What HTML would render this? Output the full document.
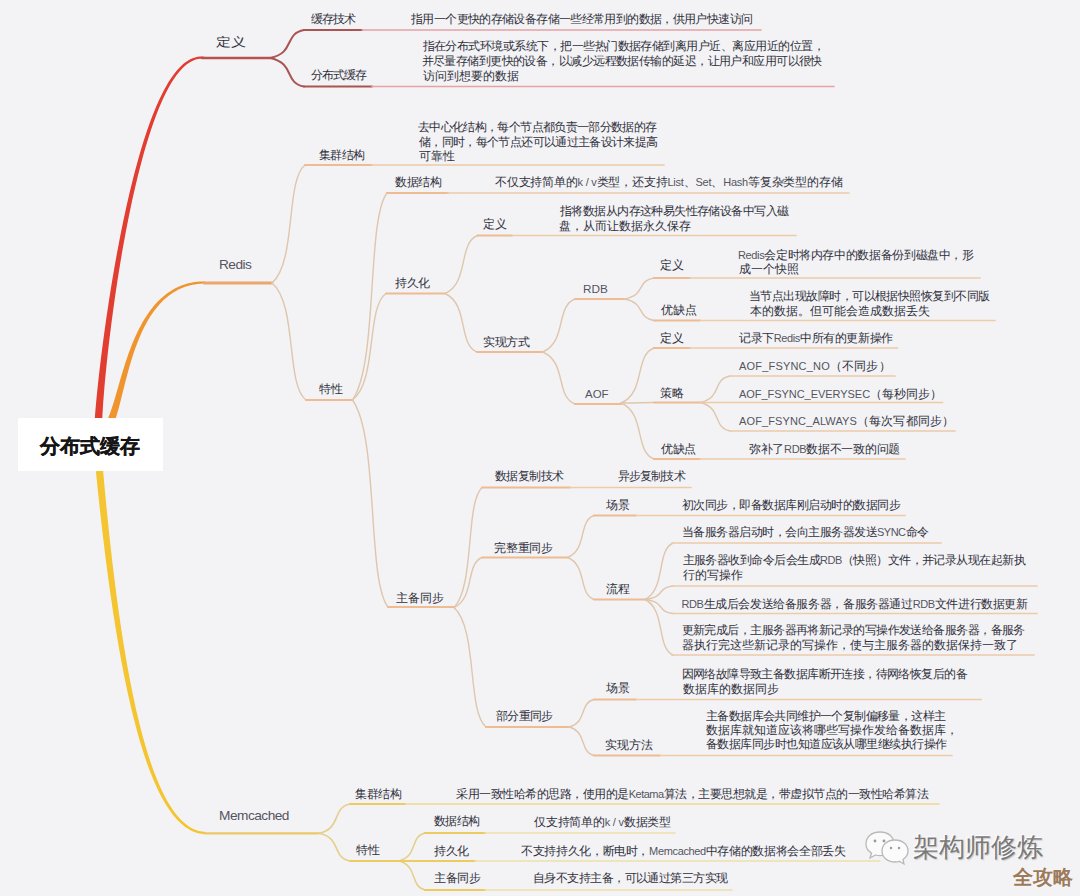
<!DOCTYPE html><html><head><meta charset="utf-8"><style>
html,body{margin:0;padding:0;width:1080px;height:896px;overflow:hidden;background:#f3f3f5}
.t{position:absolute;white-space:nowrap;line-height:1;font-family:"Liberation Sans",sans-serif;color:#30303c}
.l{font-size:0.957em;color:#55555f}
</style></head><body>
<svg width="1080" height="896" style="position:absolute;left:0;top:0">
<path d="M102.24 419.22 L102.37 416.32 L102.53 413.23 L102.72 409.94 L102.94 406.45 L103.19 402.78 L103.48 398.93 L103.79 394.90 L104.13 390.71 L104.50 386.36 L104.91 381.86 L105.34 377.21 L105.80 372.42 L106.30 367.49 L106.82 362.44 L107.38 357.26 L107.96 351.97 L108.58 346.56 L109.22 341.06 L109.90 335.46 L110.60 329.76 L111.33 323.98 L112.10 318.13 L112.89 312.20 L113.71 306.21 L114.57 300.15 L115.45 294.05 L116.36 287.89 L117.30 281.70 L118.28 275.47 L119.28 269.22 L120.31 262.94 L121.36 256.64 L122.45 250.34 L123.57 244.04 L124.72 237.73 L125.89 231.44 L127.10 225.16 L128.33 218.91 L129.60 212.68 L130.89 206.49 L132.21 200.34 L133.56 194.23 L134.94 188.18 L136.35 182.19 L137.78 176.26 L139.25 170.41 L140.74 164.63 L142.26 158.94 L143.81 153.34 L145.39 147.84 L147.00 142.44 L148.63 137.15 L150.29 131.98 L151.98 126.93 L153.70 122.01 L155.45 117.22 L157.22 112.58 L159.03 108.08 L160.86 103.74 L162.71 99.56 L164.59 95.54 L166.50 91.70 L168.44 88.04 L170.40 84.56 L172.39 81.28 L174.40 78.19 L176.44 75.31 L178.50 72.64 L180.58 70.19 L182.69 67.97 L184.81 65.97 L186.95 64.21 L189.12 62.68 L191.30 61.41 L193.49 60.38 L195.71 59.60 L197.94 59.07 L200.20 58.81 L202.49 58.81 L204.87 59.09 L205.13 56.91 L202.63 56.60 L200.08 56.57 L197.56 56.83 L195.07 57.38 L192.62 58.20 L190.20 59.29 L187.82 60.64 L185.48 62.23 L183.17 64.07 L180.89 66.14 L178.66 68.44 L176.45 70.96 L174.28 73.69 L172.14 76.63 L170.03 79.77 L167.95 83.10 L165.90 86.63 L163.88 90.33 L161.89 94.21 L159.92 98.26 L157.99 102.48 L156.08 106.85 L154.21 111.38 L152.36 116.05 L150.54 120.86 L148.75 125.80 L146.98 130.87 L145.25 136.07 L143.54 141.37 L141.86 146.79 L140.21 152.31 L138.59 157.92 L137.00 163.63 L135.43 169.42 L133.89 175.28 L132.39 181.22 L130.91 187.22 L129.45 193.29 L128.03 199.40 L126.64 205.56 L125.27 211.76 L123.93 218.00 L122.62 224.27 L121.34 230.55 L120.09 236.85 L118.87 243.16 L117.68 249.48 L116.51 255.79 L115.38 262.09 L114.27 268.37 L113.19 274.64 L112.14 280.87 L111.12 287.07 L110.13 293.23 L109.17 299.35 L108.24 305.41 L107.34 311.41 L106.46 317.34 L105.62 323.21 L104.80 328.99 L104.02 334.70 L103.26 340.31 L102.54 345.82 L101.84 351.23 L101.17 356.54 L100.54 361.72 L99.93 366.79 L99.35 371.73 L98.80 376.53 L98.28 381.20 L97.80 385.71 L97.34 390.08 L96.91 394.29 L96.51 398.33 L96.14 402.20 L95.81 405.90 L95.50 409.41 L95.22 412.73 L94.97 415.86 L94.76 418.78 Z" fill="#e23d31"/>
<path d="M114.83 420.37 L115.32 419.07 L115.82 417.68 L116.31 416.23 L116.79 414.73 L117.27 413.17 L117.75 411.57 L118.22 409.92 L118.69 408.22 L119.17 406.47 L119.64 404.68 L120.12 402.85 L120.60 400.97 L121.08 399.06 L121.57 397.10 L122.07 395.11 L122.57 393.09 L123.08 391.03 L123.59 388.95 L124.12 386.84 L124.66 384.69 L125.20 382.53 L125.76 380.34 L126.33 378.13 L126.92 375.91 L127.51 373.66 L128.13 371.41 L128.76 369.14 L129.40 366.85 L130.06 364.57 L130.74 362.27 L131.44 359.97 L132.16 357.66 L132.90 355.36 L133.66 353.06 L134.44 350.76 L135.25 348.47 L136.08 346.18 L136.93 343.90 L137.81 341.64 L138.71 339.39 L139.64 337.15 L140.60 334.94 L141.58 332.74 L142.60 330.56 L143.64 328.41 L144.71 326.29 L145.82 324.19 L146.96 322.12 L148.13 320.08 L149.33 318.08 L150.57 316.12 L151.84 314.19 L153.15 312.30 L154.49 310.45 L155.87 308.65 L157.29 306.89 L158.75 305.18 L160.25 303.53 L161.79 301.92 L163.37 300.36 L164.99 298.87 L166.65 297.43 L168.36 296.05 L170.11 294.73 L171.91 293.47 L173.76 292.28 L175.65 291.15 L177.59 290.10 L179.58 289.12 L181.62 288.20 L183.71 287.37 L185.85 286.61 L188.05 285.93 L190.30 285.34 L192.61 284.82 L194.97 284.40 L197.39 284.06 L199.87 283.81 L202.40 283.66 L205.02 283.60 L204.98 281.40 L202.32 281.44 L199.70 281.57 L197.13 281.80 L194.62 282.12 L192.16 282.53 L189.76 283.03 L187.40 283.61 L185.10 284.28 L182.85 285.03 L180.65 285.86 L178.50 286.77 L176.40 287.76 L174.35 288.82 L172.35 289.95 L170.39 291.15 L168.48 292.43 L166.62 293.76 L164.81 295.17 L163.03 296.63 L161.31 298.15 L159.62 299.73 L157.98 301.36 L156.38 303.05 L154.82 304.79 L153.30 306.58 L151.83 308.41 L150.39 310.28 L148.98 312.20 L147.62 314.16 L146.29 316.16 L145.00 318.19 L143.74 320.26 L142.51 322.35 L141.32 324.48 L140.16 326.63 L139.03 328.81 L137.94 331.01 L136.87 333.24 L135.83 335.48 L134.82 337.74 L133.83 340.01 L132.87 342.29 L131.94 344.59 L131.03 346.90 L130.15 349.21 L129.29 351.52 L128.45 353.84 L127.63 356.16 L126.84 358.48 L126.06 360.79 L125.30 363.09 L124.56 365.39 L123.84 367.68 L123.13 369.95 L122.45 372.22 L121.77 374.46 L121.11 376.68 L120.47 378.89 L119.83 381.07 L119.21 383.23 L118.60 385.36 L118.00 387.46 L117.41 389.52 L116.83 391.56 L116.25 393.56 L115.69 395.52 L115.13 397.44 L114.58 399.31 L114.03 401.14 L113.48 402.93 L112.94 404.66 L112.41 406.34 L111.88 407.97 L111.34 409.54 L110.81 411.05 L110.29 412.49 L109.76 413.88 L109.23 415.19 L108.71 416.43 L108.17 417.63 Z" fill="#f0952e"/>
<path d="M95.92 471.34 L96.66 478.80 L97.42 486.23 L98.19 493.63 L98.97 500.98 L99.76 508.29 L100.56 515.56 L101.38 522.79 L102.21 529.98 L103.04 537.11 L103.89 544.20 L104.76 551.24 L105.63 558.23 L106.52 565.17 L107.42 572.05 L108.34 578.88 L109.26 585.65 L110.20 592.36 L111.16 599.01 L112.13 605.61 L113.11 612.14 L114.11 618.60 L115.12 625.00 L116.15 631.34 L117.19 637.60 L118.25 643.80 L119.32 649.92 L120.40 655.97 L121.51 661.95 L122.63 667.85 L123.76 673.67 L124.91 679.42 L126.08 685.08 L127.27 690.67 L128.47 696.17 L129.69 701.58 L130.92 706.91 L132.17 712.16 L133.44 717.31 L134.73 722.37 L136.04 727.35 L137.37 732.22 L138.71 737.01 L140.07 741.70 L141.45 746.29 L142.85 750.78 L144.27 755.17 L145.71 759.46 L147.17 763.64 L148.65 767.72 L150.15 771.70 L151.67 775.56 L153.21 779.32 L154.77 782.97 L156.36 786.50 L157.96 789.93 L159.59 793.23 L161.23 796.42 L162.90 799.50 L164.60 802.45 L166.31 805.28 L168.05 807.99 L169.82 810.58 L171.61 813.04 L173.42 815.38 L175.26 817.58 L177.12 819.66 L179.01 821.61 L180.92 823.42 L182.86 825.10 L184.83 826.64 L186.83 828.04 L188.85 829.30 L190.90 830.42 L192.98 831.40 L195.08 832.22 L197.22 832.90 L199.37 833.43 L201.56 833.81 L203.77 834.03 L205.96 834.10 L206.04 831.90 L203.92 831.82 L201.87 831.59 L199.85 831.21 L197.86 830.69 L195.88 830.03 L193.94 829.23 L192.01 828.28 L190.10 827.20 L188.22 825.98 L186.36 824.62 L184.52 823.12 L182.70 821.49 L180.90 819.72 L179.12 817.82 L177.37 815.79 L175.63 813.63 L173.91 811.34 L172.22 808.92 L170.55 806.37 L168.89 803.70 L167.26 800.91 L165.65 797.99 L164.06 794.95 L162.50 791.79 L160.95 788.52 L159.42 785.13 L157.91 781.62 L156.43 778.00 L154.96 774.27 L153.52 770.43 L152.09 766.48 L150.68 762.42 L149.30 758.26 L147.93 753.99 L146.58 749.62 L145.26 745.15 L143.95 740.58 L142.66 735.91 L141.39 731.14 L140.13 726.28 L138.90 721.32 L137.68 716.28 L136.49 711.14 L135.31 705.91 L134.14 700.59 L133.00 695.19 L131.87 689.70 L130.76 684.13 L129.67 678.48 L128.59 672.75 L127.53 666.94 L126.48 661.05 L125.45 655.08 L124.44 649.04 L123.45 642.93 L122.46 636.74 L121.50 630.49 L120.55 624.16 L119.61 617.77 L118.69 611.32 L117.79 604.80 L116.89 598.21 L116.02 591.57 L115.15 584.86 L114.30 578.10 L113.47 571.28 L112.64 564.41 L111.83 557.48 L111.04 550.50 L110.25 543.47 L109.48 536.38 L108.73 529.25 L107.98 522.08 L107.25 514.86 L106.52 507.59 L105.81 500.28 L105.11 492.94 L104.43 485.55 L103.75 478.12 L103.08 470.66 Z" fill="#f4c431"/>
<path d="M202 58 L270 58" stroke="#b8524d" stroke-width="2.6" fill="none" stroke-linecap="round"/>
<path d="M204 283 L272 283" stroke="#eaa66c" stroke-width="2.8" fill="none" stroke-linecap="round"/>
<path d="M204 833.3 L319 833.3" stroke="#ecc964" stroke-width="2.3" fill="none" stroke-linecap="round"/>
<path d="M270.00 58.00 C295.50 52.96 283.60 33.64 304.00 30.00" stroke="#a95553" stroke-width="2" fill="none" stroke-linecap="round"/>
<path d="M270.00 58.00 C295.50 63.13 283.60 82.80 304.00 86.50" stroke="#a95553" stroke-width="2" fill="none" stroke-linecap="round"/>
<path d="M304 30 L362 30" stroke="#a95553" stroke-width="2" fill="none" stroke-linecap="round"/>
<path d="M362 30 L761 30" stroke="#e3a3a6" stroke-width="1.6" fill="none" stroke-linecap="round"/>
<path d="M304 86.5 L372 86.5" stroke="#a95553" stroke-width="2" fill="none" stroke-linecap="round"/>
<path d="M372 86.5 L834 86.5" stroke="#e3a3a6" stroke-width="1.6" fill="none" stroke-linecap="round"/>
<path d="M272.00 283.00 C296.75 261.76 285.20 180.34 305.00 165.00" stroke="#dfc6ac" stroke-width="1.4" fill="none" stroke-linecap="round"/>
<path d="M272.00 283.00 C297.50 304.06 285.60 384.79 306.00 400.00" stroke="#dfc6ac" stroke-width="1.4" fill="none" stroke-linecap="round"/>
<path d="M305 165 L372 165" stroke="#eebb92" stroke-width="2" fill="none" stroke-linecap="round"/>
<path d="M372 165 L664 165" stroke="#edcaa8" stroke-width="1.7" fill="none" stroke-linecap="round"/>
<path d="M306 400 L353 400" stroke="#eebb92" stroke-width="2" fill="none" stroke-linecap="round"/>
<path d="M352.50 400.00 C378.38 362.74 366.30 219.91 387.00 193.00" stroke="#dfc6ac" stroke-width="1.4" fill="none" stroke-linecap="round"/>
<path d="M352.50 400.00 C377.62 380.83 365.90 307.35 386.00 293.50" stroke="#dfc6ac" stroke-width="1.4" fill="none" stroke-linecap="round"/>
<path d="M352.50 400.00 C379.12 437.26 366.70 580.09 388.00 607.00" stroke="#dfc6ac" stroke-width="1.4" fill="none" stroke-linecap="round"/>
<path d="M387 193 L448 193" stroke="#eebb92" stroke-width="2" fill="none" stroke-linecap="round"/>
<path d="M448 193 L849 193" stroke="#edcaa8" stroke-width="1.7" fill="none" stroke-linecap="round"/>
<path d="M386 293.5 L445 293.5" stroke="#eebb92" stroke-width="2" fill="none" stroke-linecap="round"/>
<path d="M445.00 293.50 C469.38 283.06 458.00 243.04 477.50 235.50" stroke="#dfc6ac" stroke-width="1.4" fill="none" stroke-linecap="round"/>
<path d="M445.00 293.50 C469.00 304.03 457.80 344.39 477.00 352.00" stroke="#dfc6ac" stroke-width="1.4" fill="none" stroke-linecap="round"/>
<path d="M477.5 235.5 L512 235.5" stroke="#eebb92" stroke-width="2" fill="none" stroke-linecap="round"/>
<path d="M512 235.5 L796 235.5" stroke="#edcaa8" stroke-width="1.7" fill="none" stroke-linecap="round"/>
<path d="M477 352 L542.5 352" stroke="#eebb92" stroke-width="2" fill="none" stroke-linecap="round"/>
<path d="M542.50 352.00 C566.88 342.46 555.50 305.89 575.00 299.00" stroke="#dfc6ac" stroke-width="1.4" fill="none" stroke-linecap="round"/>
<path d="M542.50 352.00 C566.88 361.36 555.50 397.24 575.00 404.00" stroke="#dfc6ac" stroke-width="1.4" fill="none" stroke-linecap="round"/>
<path d="M575 299 L624 299" stroke="#eebb92" stroke-width="2" fill="none" stroke-linecap="round"/>
<path d="M624.00 299.00 C646.50 295.22 636.00 280.73 654.00 278.00" stroke="#dfc6ac" stroke-width="1.4" fill="none" stroke-linecap="round"/>
<path d="M624.00 299.00 C646.50 302.87 636.00 317.70 654.00 320.50" stroke="#dfc6ac" stroke-width="1.4" fill="none" stroke-linecap="round"/>
<path d="M654 278 L690 278" stroke="#eebb92" stroke-width="2" fill="none" stroke-linecap="round"/>
<path d="M690 278 L980 278" stroke="#edcaa8" stroke-width="1.7" fill="none" stroke-linecap="round"/>
<path d="M654 320.5 L700 320.5" stroke="#eebb92" stroke-width="2" fill="none" stroke-linecap="round"/>
<path d="M700 320.5 L995 320.5" stroke="#edcaa8" stroke-width="1.7" fill="none" stroke-linecap="round"/>
<path d="M575 404 L621 404" stroke="#eebb92" stroke-width="2" fill="none" stroke-linecap="round"/>
<path d="M621.00 403.00 C645.75 393.10 634.20 355.15 654.00 348.00" stroke="#dfc6ac" stroke-width="1.4" fill="none" stroke-linecap="round"/>
<path d="M621.00 403.00 C645.75 402.91 634.20 402.56 654.00 402.50" stroke="#dfc6ac" stroke-width="1.4" fill="none" stroke-linecap="round"/>
<path d="M621.00 403.00 C645.75 413.08 634.20 451.72 654.00 459.00" stroke="#dfc6ac" stroke-width="1.4" fill="none" stroke-linecap="round"/>
<path d="M654 348 L690 348" stroke="#eebb92" stroke-width="2" fill="none" stroke-linecap="round"/>
<path d="M690 348 L897.5 348" stroke="#edcaa8" stroke-width="1.7" fill="none" stroke-linecap="round"/>
<path d="M654 402.5 L700 402.5" stroke="#eebb92" stroke-width="2" fill="none" stroke-linecap="round"/>
<path d="M700.00 402.50 C722.50 397.73 712.00 379.44 730.00 376.00" stroke="#dfc6ac" stroke-width="1.4" fill="none" stroke-linecap="round"/>
<path d="M700.00 402.50 C722.50 407.63 712.00 427.30 730.00 431.00" stroke="#dfc6ac" stroke-width="1.4" fill="none" stroke-linecap="round"/>
<path d="M730 376 L895 376" stroke="#edcaa8" stroke-width="1.7" fill="none" stroke-linecap="round"/>
<path d="M700 402.5 L942.5 402.5" stroke="#edcaa8" stroke-width="1.7" fill="none" stroke-linecap="round"/>
<path d="M730 431 L955 431" stroke="#edcaa8" stroke-width="1.7" fill="none" stroke-linecap="round"/>
<path d="M654 459 L700 459" stroke="#eebb92" stroke-width="2" fill="none" stroke-linecap="round"/>
<path d="M700 459 L905 459" stroke="#edcaa8" stroke-width="1.7" fill="none" stroke-linecap="round"/>
<path d="M388 607 L454 607" stroke="#eebb92" stroke-width="2" fill="none" stroke-linecap="round"/>
<path d="M454.00 607.50 C475.00 585.90 465.20 503.10 482.00 487.50" stroke="#dfc6ac" stroke-width="1.4" fill="none" stroke-linecap="round"/>
<path d="M454.00 607.50 C475.00 598.50 465.20 564.00 482.00 557.50" stroke="#dfc6ac" stroke-width="1.4" fill="none" stroke-linecap="round"/>
<path d="M454.00 607.50 C478.00 629.01 466.80 711.47 486.00 727.00" stroke="#dfc6ac" stroke-width="1.4" fill="none" stroke-linecap="round"/>
<path d="M482 487.5 L570 487.5" stroke="#eebb92" stroke-width="2" fill="none" stroke-linecap="round"/>
<path d="M570 487.5 L691 487.5" stroke="#edcaa8" stroke-width="1.7" fill="none" stroke-linecap="round"/>
<path d="M482 557.5 L567.5 557.5" stroke="#eebb92" stroke-width="2" fill="none" stroke-linecap="round"/>
<path d="M567.50 557.50 C587.38 549.94 578.10 520.96 594.00 515.50" stroke="#dfc6ac" stroke-width="1.4" fill="none" stroke-linecap="round"/>
<path d="M567.50 557.50 C587.38 565.06 578.10 594.04 594.00 599.50" stroke="#dfc6ac" stroke-width="1.4" fill="none" stroke-linecap="round"/>
<path d="M594 515.5 L636 515.5" stroke="#eebb92" stroke-width="2" fill="none" stroke-linecap="round"/>
<path d="M636 515.5 L905 515.5" stroke="#edcaa8" stroke-width="1.7" fill="none" stroke-linecap="round"/>
<path d="M594 599.5 L645 599.5" stroke="#eebb92" stroke-width="2" fill="none" stroke-linecap="round"/>
<path d="M645.00 599.50 C666.00 589.33 656.20 550.35 673.00 543.00" stroke="#dfc6ac" stroke-width="1.4" fill="none" stroke-linecap="round"/>
<path d="M672 543 L941 543" stroke="#edcaa8" stroke-width="1.7" fill="none" stroke-linecap="round"/>
<path d="M645.00 599.50 C666.00 597.07 656.20 587.75 673.00 586.00" stroke="#dfc6ac" stroke-width="1.4" fill="none" stroke-linecap="round"/>
<path d="M672 586 L1037 586" stroke="#edcaa8" stroke-width="1.7" fill="none" stroke-linecap="round"/>
<path d="M645.00 599.50 C666.00 602.02 656.20 611.68 673.00 613.50" stroke="#dfc6ac" stroke-width="1.4" fill="none" stroke-linecap="round"/>
<path d="M672 613.5 L1037 613.5" stroke="#edcaa8" stroke-width="1.7" fill="none" stroke-linecap="round"/>
<path d="M645.00 599.50 C666.00 609.49 656.20 647.78 673.00 655.00" stroke="#dfc6ac" stroke-width="1.4" fill="none" stroke-linecap="round"/>
<path d="M672 655 L1034 655" stroke="#edcaa8" stroke-width="1.7" fill="none" stroke-linecap="round"/>
<path d="M486 727 L569 727" stroke="#eebb92" stroke-width="2" fill="none" stroke-linecap="round"/>
<path d="M569.00 727.00 C587.75 722.05 579.00 703.08 594.00 699.50" stroke="#dfc6ac" stroke-width="1.4" fill="none" stroke-linecap="round"/>
<path d="M569.00 727.00 C587.75 732.13 579.00 751.79 594.00 755.50" stroke="#dfc6ac" stroke-width="1.4" fill="none" stroke-linecap="round"/>
<path d="M594 699.5 L636 699.5" stroke="#eebb92" stroke-width="2" fill="none" stroke-linecap="round"/>
<path d="M636 699.5 L981 699.5" stroke="#edcaa8" stroke-width="1.7" fill="none" stroke-linecap="round"/>
<path d="M594 755.5 L660 755.5" stroke="#eebb92" stroke-width="2" fill="none" stroke-linecap="round"/>
<path d="M660 755.5 L952 755.5" stroke="#edcaa8" stroke-width="1.7" fill="none" stroke-linecap="round"/>
<path d="M319.00 833.30 C342.25 828.03 331.40 807.81 350.00 804.00" stroke="#e4d08c" stroke-width="1.6" fill="none" stroke-linecap="round"/>
<path d="M319.00 833.30 C342.25 838.29 331.40 857.40 350.00 861.00" stroke="#e4d08c" stroke-width="1.6" fill="none" stroke-linecap="round"/>
<path d="M350 804 L406 804" stroke="#ebcb62" stroke-width="2.2" fill="none" stroke-linecap="round"/>
<path d="M406 804 L939 804" stroke="#eedfa8" stroke-width="1.8" fill="none" stroke-linecap="round"/>
<path d="M350 861 L399 861" stroke="#ebcb62" stroke-width="2.2" fill="none" stroke-linecap="round"/>
<path d="M399.00 861.00 C418.50 855.96 409.40 836.64 425.00 833.00" stroke="#e4d08c" stroke-width="1.6" fill="none" stroke-linecap="round"/>
<path d="M399.00 861.00 C418.50 861.00 409.40 861.00 425.00 861.00" stroke="#e4d08c" stroke-width="1.6" fill="none" stroke-linecap="round"/>
<path d="M399.00 861.00 C418.50 866.22 409.40 886.23 425.00 890.00" stroke="#e4d08c" stroke-width="1.6" fill="none" stroke-linecap="round"/>
<path d="M425 833 L485 833" stroke="#ebcb62" stroke-width="2" fill="none" stroke-linecap="round"/>
<path d="M485 833 L675 833" stroke="#eedfa8" stroke-width="1.6" fill="none" stroke-linecap="round"/>
<path d="M399 861 L475 861" stroke="#ebcb62" stroke-width="2" fill="none" stroke-linecap="round"/>
<path d="M475 861 L880 861" stroke="#eedfa8" stroke-width="1.6" fill="none" stroke-linecap="round"/>
<path d="M425 890 L485 890" stroke="#ebcb62" stroke-width="2" fill="none" stroke-linecap="round"/>
<path d="M485 890 L732 890" stroke="#eedfa8" stroke-width="1.6" fill="none" stroke-linecap="round"/>
</svg>
<div class="t" style="left:216.00px;top:35.80px;font-size:14.5px;transform:scaleY(0.8);transform-origin:left top">定义</div>
<div class="t" style="left:311.00px;top:14.20px;font-size:11.5px;letter-spacing:-1.000px;">缓存技术</div>
<div class="t" style="left:311.00px;top:70.20px;font-size:11.5px;letter-spacing:-1.000px;">分布式缓存</div>
<div class="t" style="left:411.00px;top:14.20px;font-size:11.5px;letter-spacing:-0.621px;">指用一个更快的存储设备存储一些经常用到的数据，供用户快速访问</div>
<div class="t" style="left:422.50px;top:41.20px;font-size:11.5px;letter-spacing:-0.529px;">指在分布式环境或系统下，把一些热门数据存储到离用户近、离应用近的位置，</div>
<div class="t" style="left:421.50px;top:56.20px;font-size:11.5px;letter-spacing:-0.559px;">并尽量存储到更快的设备，以减少远程数据传输的延迟，让用户和应用可以很快</div>
<div class="t" style="left:422.50px;top:71.20px;font-size:11.5px;">访问到想要的数据</div>
<div class="t" style="left:219.00px;top:257.00px;font-size:14.3px;letter-spacing:-0.500px;"><span class="l">Redis</span></div>
<div class="t" style="left:319.00px;top:150.20px;font-size:11.5px;letter-spacing:-0.667px;">集群结构</div>
<div class="t" style="left:418.00px;top:122.20px;font-size:11.5px;letter-spacing:-0.650px;">去中心化结构，每个节点都负责一部分数据的存</div>
<div class="t" style="left:419.00px;top:137.20px;font-size:11.5px;letter-spacing:-0.650px;">储，同时，每个节点还可以通过主备设计来提高</div>
<div class="t" style="left:419.00px;top:151.20px;font-size:11.5px;">可靠性</div>
<div class="t" style="left:319.00px;top:384.20px;font-size:11.5px;">特性</div>
<div class="t" style="left:395.00px;top:177.20px;font-size:11.5px;letter-spacing:-0.333px;">数据结构</div>
<div class="t" style="left:495.00px;top:177.20px;font-size:11.5px;letter-spacing:-0.211px;">不仅支持简单的<span class="l">k / v</span>类型，还支持<span class="l">List</span>、<span class="l">Set</span>、<span class="l">Hash</span>等复杂类型的存储</div>
<div class="t" style="left:395.00px;top:278.20px;font-size:11.5px;letter-spacing:-0.500px;">持久化</div>
<div class="t" style="left:483.00px;top:219.20px;font-size:11.5px;">定义</div>
<div class="t" style="left:560.00px;top:206.20px;font-size:11.5px;letter-spacing:-0.579px;">指将数据从内存这种易失性存储设备中写入磁</div>
<div class="t" style="left:559.00px;top:221.20px;font-size:11.5px;">盘，从而让数据永久保存</div>
<div class="t" style="left:483.00px;top:336.70px;font-size:11.5px;letter-spacing:-0.333px;">实现方式</div>
<div class="t" style="left:583.00px;top:283.00px;font-size:12.3px;"><span class="l">RDB</span></div>
<div class="t" style="left:660.00px;top:260.20px;font-size:11.5px;">定义</div>
<div class="t" style="left:738.00px;top:250.20px;font-size:11.5px;letter-spacing:-0.364px;"><span class="l">Redis</span>会定时将内存中的数据备份到磁盘中，形</div>
<div class="t" style="left:739.00px;top:264.20px;font-size:11.5px;">成一个快照</div>
<div class="t" style="left:661.00px;top:305.20px;font-size:11.5px;">优缺点</div>
<div class="t" style="left:749.00px;top:291.20px;font-size:11.5px;letter-spacing:-0.550px;">当节点出现故障时，可以根据快照恢复到不同版</div>
<div class="t" style="left:750.00px;top:306.20px;font-size:11.5px;">本的数据。但可能会造成数据丢失</div>
<div class="t" style="left:585.00px;top:388.00px;font-size:12px;"><span class="l">AOF</span></div>
<div class="t" style="left:660.00px;top:332.70px;font-size:11.5px;">定义</div>
<div class="t" style="left:739.00px;top:332.70px;font-size:11.5px;letter-spacing:-0.400px;">记录下<span class="l">Redis</span>中所有的更新操作</div>
<div class="t" style="left:660.00px;top:387.70px;font-size:11.5px;">策略</div>
<div class="t" style="left:739.00px;top:361.20px;font-size:11.5px;letter-spacing:0.188px;"><span class="l">AOF_FSYNC_NO</span>（不同步）</div>
<div class="t" style="left:739.00px;top:389.20px;font-size:11.5px;letter-spacing:-0.043px;"><span class="l">AOF_FSYNC_EVERYSEC</span>（每秒同步）</div>
<div class="t" style="left:739.00px;top:416.20px;font-size:11.5px;letter-spacing:0.130px;"><span class="l">AOF_FSYNC_ALWAYS</span>（每次写都同步）</div>
<div class="t" style="left:661.00px;top:444.20px;font-size:11.5px;letter-spacing:-0.500px;">优缺点</div>
<div class="t" style="left:749.00px;top:444.20px;font-size:11.5px;letter-spacing:-0.308px;">弥补了<span class="l">RDB</span>数据不一致的问题</div>
<div class="t" style="left:396.00px;top:592.70px;font-size:11.5px;">主备同步</div>
<div class="t" style="left:495.00px;top:471.20px;font-size:11.5px;letter-spacing:-0.600px;">数据复制技术</div>
<div class="t" style="left:617.50px;top:471.20px;font-size:11.5px;letter-spacing:-0.800px;">异步复制技术</div>
<div class="t" style="left:494.00px;top:542.70px;font-size:11.5px;letter-spacing:-0.250px;">完整重同步</div>
<div class="t" style="left:606.00px;top:500.20px;font-size:11.5px;">场景</div>
<div class="t" style="left:681.50px;top:500.20px;font-size:11.5px;letter-spacing:-0.500px;">初次同步，即备数据库刚启动时的数据同步</div>
<div class="t" style="left:606.00px;top:584.20px;font-size:11.5px;">流程</div>
<div class="t" style="left:681.50px;top:526.70px;font-size:11.5px;letter-spacing:-0.500px;">当备服务器启动时，会向主服务器发送<span class="l">SYNC</span>命令</div>
<div class="t" style="left:682.50px;top:555.20px;font-size:11.5px;letter-spacing:-0.533px;">主服务器收到命令后会生成<span class="l">RDB</span>（快照）文件，并记录从现在起新执</div>
<div class="t" style="left:682.50px;top:570.20px;font-size:11.5px;">行的写操作</div>
<div class="t" style="left:681.50px;top:599.20px;font-size:11.5px;letter-spacing:-0.387px;"><span class="l">RDB</span>生成后会发送给备服务器，备服务器通过<span class="l">RDB</span>文件进行数据更新</div>
<div class="t" style="left:681.50px;top:625.20px;font-size:11.5px;letter-spacing:-0.552px;">更新完成后，主服务器再将新记录的写操作发送给备服务器，备服务</div>
<div class="t" style="left:681.50px;top:640.20px;font-size:11.5px;">器执行完这些新记录的写操作，使与主服务器的数据保持一致了</div>
<div class="t" style="left:496.00px;top:711.20px;font-size:11.5px;letter-spacing:-0.750px;">部分重同步</div>
<div class="t" style="left:606.00px;top:682.70px;font-size:11.5px;">场景</div>
<div class="t" style="left:681.50px;top:669.20px;font-size:11.5px;letter-spacing:-0.583px;">因网络故障导致主备数据库断开连接，待网络恢复后的备</div>
<div class="t" style="left:682.50px;top:684.20px;font-size:11.5px;">数据库的数据同步</div>
<div class="t" style="left:605.00px;top:740.20px;font-size:11.5px;">实现方法</div>
<div class="t" style="left:706.00px;top:711.20px;font-size:11.5px;letter-spacing:-0.600px;">主备数据库会共同维护一个复制偏移量，这样主</div>
<div class="t" style="left:706.00px;top:725.20px;font-size:11.5px;">数据库就知道应该将哪些写操作发给备数据库，</div>
<div class="t" style="left:706.00px;top:739.20px;font-size:11.5px;letter-spacing:-0.550px;">备数据库同步时也知道应该从哪里继续执行操作</div>
<div class="t" style="left:219.00px;top:808.00px;font-size:14.3px;letter-spacing:-0.500px;"><span class="l">Memcached</span></div>
<div class="t" style="left:355.00px;top:788.70px;font-size:11.5px;letter-spacing:-0.333px;">集群结构</div>
<div class="t" style="left:456.00px;top:789.20px;font-size:11.5px;letter-spacing:-0.488px;">采用一致性哈希的思路，使用的是<span class="l">Ketama</span>算法，主要思想就是，带虚拟节点的一致性哈希算法</div>
<div class="t" style="left:356.00px;top:845.20px;font-size:11.5px;">特性</div>
<div class="t" style="left:434.00px;top:816.20px;font-size:11.5px;letter-spacing:-0.667px;">数据结构</div>
<div class="t" style="left:534.00px;top:816.70px;font-size:11.5px;letter-spacing:-0.214px;">仅支持简单的<span class="l">k / v</span>数据类型</div>
<div class="t" style="left:434.00px;top:846.20px;font-size:11.5px;letter-spacing:-0.500px;">持久化</div>
<div class="t" style="left:521.00px;top:846.20px;font-size:11.5px;letter-spacing:-0.355px;">不支持持久化，断电时，<span class="l">Memcached</span>中存储的数据将会全部丢失</div>
<div class="t" style="left:434.00px;top:873.20px;font-size:11.5px;letter-spacing:-0.333px;">主备同步</div>
<div class="t" style="left:533.00px;top:873.20px;font-size:11.5px;letter-spacing:-0.562px;">自身不支持主备，可以通过第三方实现</div>
<div style="position:absolute;left:18px;top:418px;width:145px;height:53px;background:#ffffff"></div>
<div class="t" style="left:40px;top:436px;font-size:20px;font-weight:bold;color:#151515;-webkit-text-stroke:0.25px #151515">分布式缓存</div>
<svg width="50" height="42" style="position:absolute;left:862px;top:826px" viewBox="0 0 50 42"><g fill="#fbfbfb" stroke="#b9b9b9" stroke-width="1.3"><path d="M18 6 C9 6 4 11.5 4 18 C4 22 6 25 9.5 27 L8 32 L13.5 29 C15 29.5 16.5 29.7 18 29.7 C27 29.7 32 24 32 18 C32 11.5 27 6 18 6 Z"/><path d="M33 14 C25 14 20 19 20 25 C20 31 25 36 33 36 C34.5 36 36 35.8 37.3 35.3 L42 38 L41 33.5 C44 31.5 46 28.5 46 25 C46 19 41 14 33 14 Z"/></g><g fill="#9a9a9a"><circle cx="13" cy="15" r="1.4"/><circle cx="22" cy="15" r="1.4"/><circle cx="29" cy="22" r="1.2"/><circle cx="37" cy="22" r="1.2"/></g></svg>
<div class="t" style="left:913px;top:834px;font-size:26px;letter-spacing:0px;color:#7a7a7a;text-shadow:-1px -1px 0 #fff,1px 1px 1px #c8c8c8">架构师修炼</div>
<div class="t" style="left:1013px;top:867px;font-size:20px;font-weight:900;color:#9c7b5c;text-shadow:0 0 2px #fff">全攻略</div>
</body></html>
